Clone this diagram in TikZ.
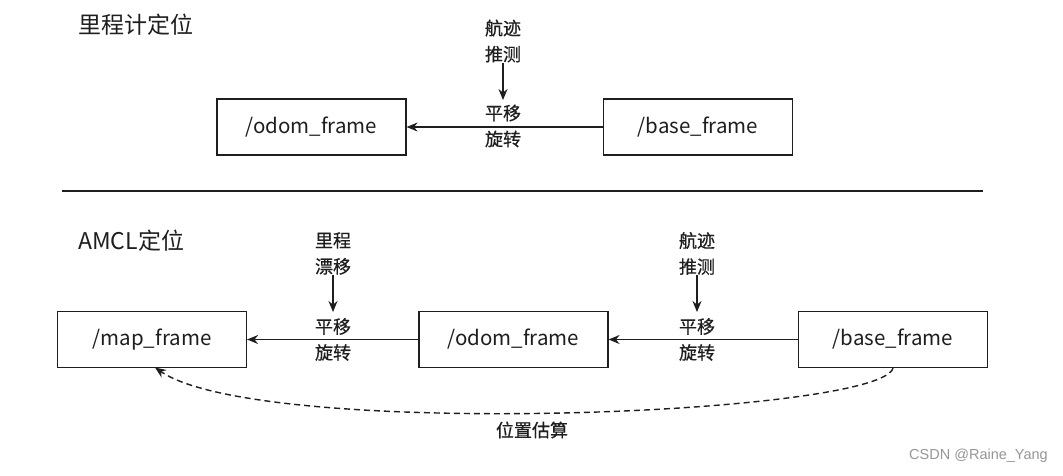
\documentclass[tikz,border=0pt]{standalone}
\usepackage{fontspec}
\setmainfont{Noto Sans CJK SC}
\newfontfamily\cjkmed[FakeBold=0.6]{Noto Sans CJK SC}
\newfontfamily\wmfont{Liberation Sans}
\usetikzlibrary{arrows.meta}
\definecolor{lineblk}{RGB}{30,30,30}
\definecolor{wmgray}{RGB}{150,150,150}
\tikzset{
  framebox/.style={draw=lineblk,line width=1.2pt,minimum width=189pt,minimum height=56pt,inner sep=0pt,font=\fontsize{20.5}{22}\selectfont,text=lineblk},
  cnlabel/.style={align=center,font=\cjkmed\fontsize{18}{26}\selectfont,inner sep=0pt,text=lineblk},
  titlelabel/.style={anchor=west,inner sep=0pt,font=\fontsize{23}{25}\selectfont,text=lineblk},
  link/.style={draw=lineblk,line width=1.5pt,-{Stealth[length=11pt,width=9pt]}},
  estlink/.style={draw=lineblk,line width=1.4pt,dash pattern=on 6pt off 4pt,-{Stealth[length=11pt,width=9pt]}}
}
\begin{document}
\begin{tikzpicture}[x=1pt,y=-1pt]
\useasboundingbox[fill=white] (0,0) rectangle (1063,475);

% --- top: odometry localisation
\node[titlelabel] (t1) at (78,25) {里程计定位};
\node[framebox] (odomA) at (311.5,127) {/odom\_frame};
\node[framebox] (baseA) at (698,127) {/base\_frame};
\draw[link] (baseA.west) -- (odomA.west -| odomA.east);
\node[cnlabel] (dr1) at (503,41) {航迹\\推测};
\node[cnlabel] (tr1) at (503,126) {平移\\旋转};
\coordinate (tr1top) at (503,100);
\draw[link] (dr1.south) -- (tr1top);

% --- separator
\coordinate (sepL) at (62,191);
\coordinate (sepR) at (983,191);
\draw[lineblk,line width=1.5pt] (sepL) -- (sepR);

% --- bottom: AMCL localisation
\node[titlelabel] (t2) at (78,241) {AMCL定位};
\node[framebox] (mapB) at (152,339.5) {/map\_frame};
\node[framebox] (odomB) at (513.5,339.5) {/odom\_frame};
\node[framebox] (baseB) at (893,339.5) {/base\_frame};
\draw[link] (odomB.west) -- (mapB.east);
\draw[link] (baseB.west) -- (odomB.east);

\node[cnlabel] (drift) at (333,253.5) {里程\\漂移};
\node[cnlabel] (tr2) at (333,339.5) {平移\\旋转};
\coordinate (tr2top) at (333,312);
\draw[link] (drift.south) -- (tr2top);

\node[cnlabel] (dr2) at (697,253.5) {航迹\\推测};
\node[cnlabel] (tr3) at (697,339.5) {平移\\旋转};
\coordinate (tr3top) at (697,312);
\draw[link] (dr2.south) -- (tr3top);

\coordinate (estEnd) at (155,367.5);
\draw[estlink] (baseB.south) .. controls (880,415) and (260,440) .. (estEnd);
\node[cnlabel] (est) at (532,430) {位置估算};

% --- watermark
\node[anchor=east,inner sep=0pt,text=wmgray,font=\wmfont\fontsize{14.5}{16}\selectfont] (wm) at (1048,456) {CSDN @Raine\_Yang};
\end{tikzpicture}
\end{document}
